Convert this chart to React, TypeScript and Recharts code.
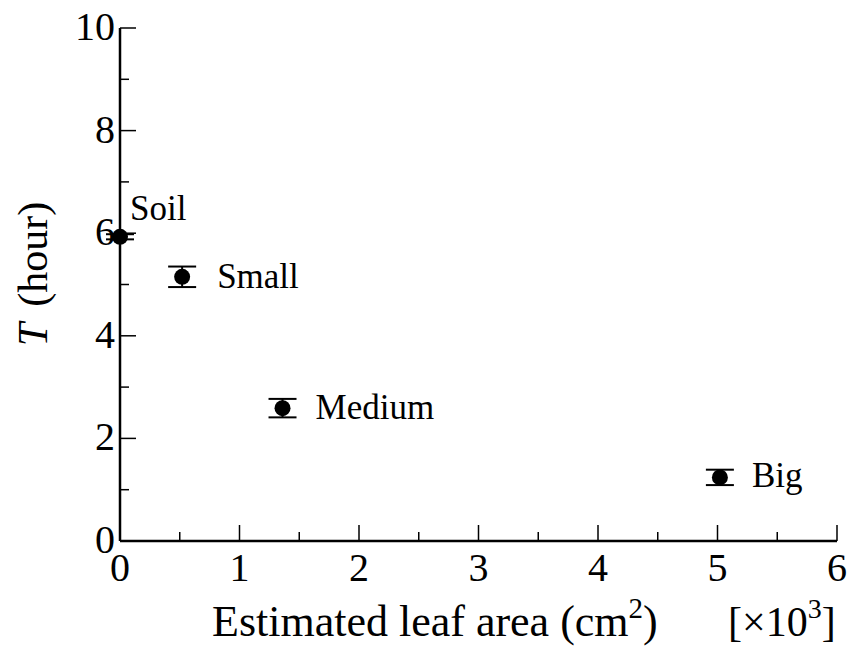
import { ScatterChart, Scatter, XAxis, YAxis, ErrorBar } from 'recharts';

const names = ['Soil', 'Small', 'Medium', 'Big'];
const leafArea = [0, 0.52, 1.36, 5.02];
const hours = [5.93, 5.15, 2.59, 1.24];
const hourErr = [0.05, 0.2, 0.18, 0.15];

const xTicks = [0, 0.5, 1, 1.5, 2, 2.5, 3, 3.5, 4, 4.5, 5, 5.5, 6];
const yTicks = [0, 1, 2, 3, 4, 5, 6, 7, 8, 9, 10];

const data = names.map((name, i) => ({ name, x: leafArea[i], y: hours[i], err: hourErr[i] }));

// where each point's label sits relative to the marker
const labelOffset: Record<string, [number, number]> = {
  Soil: [10, -17],
  Small: [35, 11],
  Medium: [33, 11],
  Big: [32, 10],
};

const FONT = 'Liberation Serif, Times New Roman, serif';

const BottomTick = ({ x, y, payload }: any) => {
  const major = Number.isInteger(payload.value);
  return (
    <g>
      <line x1={x} y1={y} x2={x} y2={y - (major ? 16 : 9)} stroke="#000" strokeWidth={1.5} />
      {major && (
        <text x={x} y={y + 40} textAnchor="middle" fontSize={40} fontFamily={FONT} fill="#000">
          {payload.value}
        </text>
      )}
    </g>
  );
};

const TopTick = ({ x, y, payload }: any) => {
  const major = Number.isInteger(payload.value);
  return <line x1={x} y1={y} x2={x} y2={y + (major ? 16 : 9)} stroke="#000" strokeWidth={1.5} />;
};

const LeftTick = ({ x, y, payload }: any) => {
  const major = payload.value % 2 === 0;
  return (
    <g>
      <line x1={x} y1={y} x2={x + (major ? 16 : 9)} y2={y} stroke="#000" strokeWidth={1.5} />
      {major && (
        <text x={x - 5} y={y} dy="0.3em" textAnchor="end" fontSize={40} fontFamily={FONT} fill="#000">
          {payload.value}
        </text>
      )}
    </g>
  );
};

const RightTick = ({ x, y, payload }: any) => {
  const major = payload.value % 2 === 0;
  return <line x1={x} y1={y} x2={x - (major ? 16 : 9)} y2={y} stroke="#000" strokeWidth={1.5} />;
};

const Dot = (props: any) => {
  const { cx, cy, payload } = props;
  const [dx, dy] = labelOffset[payload.name] || [30, 10];
  return (
    <g>
      <circle cx={cx} cy={cy} r={8} fill="#000" />
      <text x={cx + dx} y={cy + dy} fontSize={35} fontFamily={FONT} fill="#000">
        {payload.name}
      </text>
    </g>
  );
};

const axisStroke = { stroke: '#000', strokeWidth: 2.5 };

export default function App() {
  return (
    <div style={{ position: 'relative', width: 854, height: 652 }}>
      <style>{'body{margin:0}'}</style>
      <ScatterChart width={854} height={652} margin={{ top: 28, right: 17, bottom: 0, left: 0 }}>
        <XAxis
          xAxisId="b"
          type="number"
          dataKey="x"
          domain={[0, 6]}
          ticks={xTicks}
          interval={0}
          height={111}
          tickSize={0}
          tickMargin={0}
          tickLine={false}
          tick={<BottomTick />}
          axisLine={axisStroke}
        />
        <XAxis
          xAxisId="t"
          orientation="top"
          type="number"
          dataKey="x"
          domain={[0, 6]}
          ticks={xTicks}
          interval={0}
          height={0}
          tickSize={0}
          tickMargin={0}
          tickLine={false}
          tick={<TopTick />}
          axisLine={axisStroke}
        />
        <YAxis
          yAxisId="l"
          type="number"
          dataKey="y"
          domain={[0, 10]}
          ticks={yTicks}
          interval={0}
          width={120}
          tickSize={0}
          tickMargin={0}
          tickLine={false}
          tick={<LeftTick />}
          axisLine={axisStroke}
        />
        <YAxis
          yAxisId="r"
          orientation="right"
          type="number"
          dataKey="y"
          domain={[0, 10]}
          ticks={yTicks}
          interval={0}
          width={0}
          tickSize={0}
          tickMargin={0}
          tickLine={false}
          tick={<RightTick />}
          axisLine={axisStroke}
        />
        <Scatter data={data} xAxisId="b" yAxisId="l" shape={<Dot />} isAnimationActive={false}>
          <ErrorBar dataKey="err" direction="y" width={14} stroke="#000" strokeWidth={2} />
        </Scatter>
      </ScatterChart>
      <svg width={854} height={652} style={{ position: 'absolute', left: 0, top: 0, pointerEvents: 'none' }}>
        <text x={212} y={636} fontSize={44} fontFamily={FONT} fill="#000">
          Estimated leaf area (cm
          <tspan dy={-18} fontSize={29}>2</tspan>
          <tspan dy={18}>)</tspan>
        </text>
        <text x={728} y={636} fontSize={42} fontFamily={FONT} fill="#000">
          [×10
          <tspan dy={-18} fontSize={28}>3</tspan>
          <tspan dy={18}>]</tspan>
        </text>
        <text
          transform="translate(47,274) rotate(-90)"
          textAnchor="middle"
          fontSize={42}
          fontFamily={FONT}
          fill="#000"
        >
          <tspan fontStyle="italic">T</tspan>
          <tspan dx={16}>(hour)</tspan>
        </text>
      </svg>
    </div>
  );
}
